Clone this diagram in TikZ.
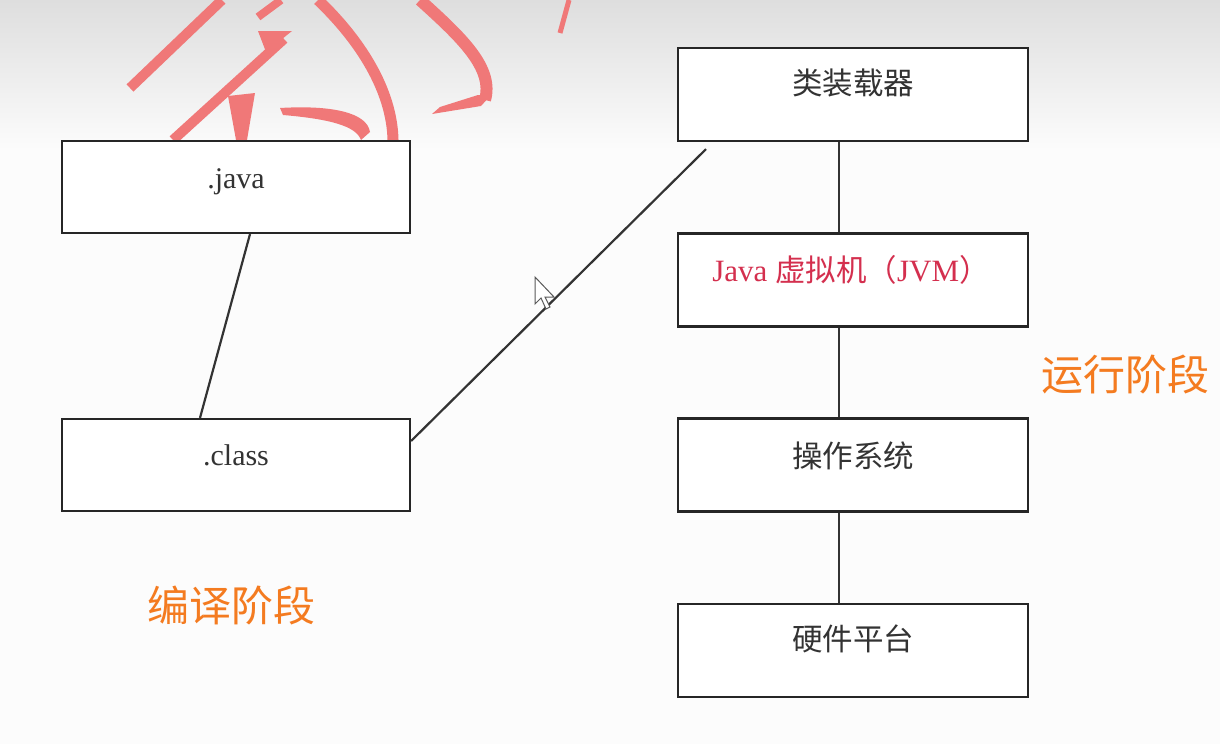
\documentclass[tikz,border=0pt]{standalone}
\usepackage{fontspec}
\setmainfont{Liberation Serif}
\newfontfamily\cjk{Noto Sans CJK SC}
\definecolor{boxline}{HTML}{262626}
\definecolor{connline}{HTML}{333333}
\definecolor{stamp}{HTML}{F07878}
\definecolor{orangelab}{HTML}{F47B20}
\definecolor{jvmred}{HTML}{D42F4E}
\definecolor{txtgray}{HTML}{333333}
\definecolor{bgtop}{HTML}{DEDEDE}
\definecolor{bgrest}{HTML}{FCFCFC}
\begin{document}
\begin{tikzpicture}[x=1pt,y=-1pt,
  boxl/.style={draw=boxline, line width=2.2pt, fill=white, minimum width=348pt, minimum height=92pt, inner sep=0pt},
  boxr/.style={draw=boxline, line width=2.2pt, fill=white, minimum width=350pt, minimum height=93pt, inner sep=0pt},
  conn/.style={draw=connline, line width=2.2pt},
  txt/.style={text=txtgray, font=\fontsize{30}{34}\selectfont, inner sep=0pt},
  cjktxt/.style={text=txtgray, font=\cjk\fontsize{30.5}{34}\selectfont, inner sep=0pt},
  stage/.style={text=orangelab, font=\cjk\fontsize{42}{46}\selectfont, inner sep=0pt},
  stampline/.style={draw=stamp, line cap=butt, line join=round},
  cursorstyle/.style={draw=black!65, fill=white, line width=1pt, line join=miter}
]
\useasboundingbox (0,0) rectangle (1220,744);
% background
\fill[bgrest] (0,0) rectangle (1220,744);
\shade[top color=bgtop, bottom color=bgrest] (0,0) rectangle (1220,150);

% red handwriting strokes
\draw[stampline, line width=10pt] (130,88) -- (222,0);
\draw[stampline, line width=8pt] (258,17) -- (281,0);
\draw[stampline, line width=10pt] (173,140) -- (284,39);
\fill[stamp] (258,31) -- (292,31) -- (266,52) -- cycle;
\fill[stamp] (228,96) -- (255,93) -- (247,140) -- (236,140) -- cycle;
\draw[stampline, line width=11pt] (318,0) .. controls (360,40) and (392,90) .. (393,140);
\fill[stamp] (280,108) .. controls (330,105) and (367,112) .. (370,132) -- (361,140) .. controls (356,126) and (330,119) .. (283,115) -- cycle;
\draw[stampline, line width=12pt] (420,0) .. controls (462,38) and (494,68) .. (485,100);
\fill[stamp] (491,95) -- (481,106) -- (432,114) -- (440,107) -- (478,95) -- cycle;
\draw[stampline, line width=5pt] (569,0) -- (560,33);

% boxes
\node[boxl] (java) at (236,187) {};
\node[boxl] (class) at (236,465) {};
\node[boxr] (loader) at (853,94.5) {};
\node[boxr] (jvm) at (853,280) {};
\node[boxr] (os) at (853,465) {};
\node[boxr] (hw) at (853,650.5) {};

% box texts
\node[txt] (tjava) at ([yshift=-42pt]java.north) {.java};
\node[txt] (tclass) at ([yshift=-37pt]class.north) {.class};
\node[cjktxt] (tloader) at ([yshift=-36pt]loader.north) {类装载器};
\node[inner sep=0pt, text=jvmred] (tjvm) at ([xshift=-2pt,yshift=-38pt]jvm.north)
  {\fontsize{31}{34}\selectfont Java {\cjk\fontsize{30.5}{34}\selectfont 虚拟机（}JVM{\cjk\fontsize{30.5}{34}\selectfont ）}};
\node[cjktxt] (tos) at ([yshift=-38pt]os.north) {操作系统};
\node[cjktxt] (thw) at ([yshift=-36pt]hw.north) {硬件平台};

% connectors
\draw[conn] ([xshift=14pt]java.south) -- ([xshift=-36pt]class.north);
\draw[conn] ([yshift=24pt]class.east) -- ([xshift=-147pt,yshift=-7pt]loader.south);
\draw[conn] ([xshift=-14pt]loader.south) -- ([xshift=-14pt]jvm.north);
\draw[conn] ([xshift=-14pt]jvm.south) -- ([xshift=-14pt]os.north);
\draw[conn] ([xshift=-14pt]os.south) -- ([xshift=-14pt]hw.north);

% stage labels
\node[stage] (compile) at (231,605) {编译阶段};
\node[stage] (run) at (1125,374) {运行阶段};

% mouse cursor
\draw[cursorstyle] (535,277) -- (535,304) -- (541,298) -- (546,309) -- (550,307) -- (545,297) -- (554,297) -- cycle;
\end{tikzpicture}
\end{document}
